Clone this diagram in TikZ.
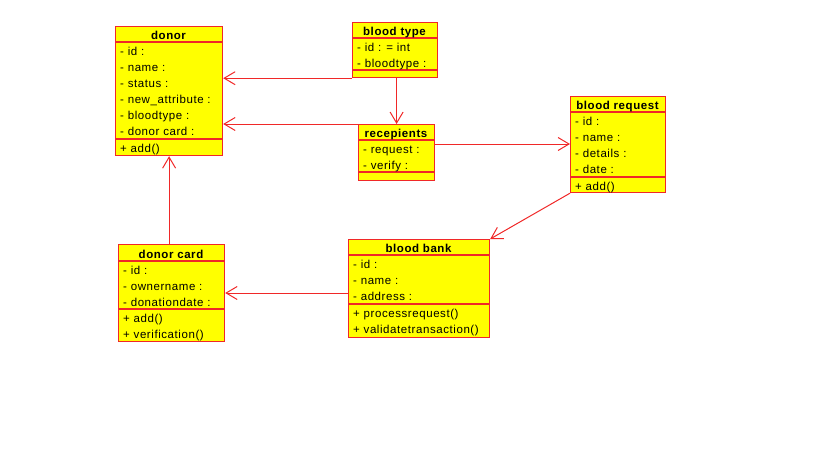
\documentclass[tikz,border=0pt]{standalone}
\usepackage{fontspec}
\setmainfont{Liberation Sans}[LetterSpace=5]
\usetikzlibrary{arrows.meta}
\definecolor{umlred}{RGB}{240,40,40}
\definecolor{umlyellow}{RGB}{255,255,0}
\begin{document}
\begin{tikzpicture}[x=1pt,y=-1pt,
  box/.style={draw=umlred, fill=umlyellow, line width=1.2pt, inner sep=0pt, anchor=north west},
  sep/.style={draw=umlred, line width=1.2pt},
  title/.style={font=\fontsize{11.5}{13}\selectfont\bfseries, inner sep=0pt, anchor=base},
  attr/.style={font=\fontsize{11.5}{13}\selectfont, inner sep=0pt, anchor=base west},
  arr/.style={draw=umlred, line width=1pt, -{Straight Barb[length=11pt,width=13pt]}}]
\useasboundingbox (0,0) rectangle (819,460);

% donor
\node[box, minimum width=107pt, minimum height=129pt] (donor) at (115,26) {};
\draw[sep] (115,42) -- (222,42);
\draw[sep] (115,139) -- (222,139);
\node[title] (donorT) at (168.5,39.5) {donor};
\foreach \t [count=\i] in {- id :, - name :, - status :, - new\_attribute :, - bloodtype :, - donor card :}
  \node[attr] (donorA\i) at (120,{55.5+16*(\i-1)}) {\t};
\node[attr] (donorM1) at (120,152.5) {+ add()};

% blood type
\node[box, minimum width=85pt, minimum height=55pt] (btype) at (352,22) {};
\draw[sep] (352,38) -- (437,38);
\draw[sep] (352,70) -- (437,70);
\node[title] (btypeT) at (394.5,35.5) {blood type};
\node[attr] (btypeA1) at (357,51.5) {- id : = int};
\node[attr] (btypeA2) at (357,67.5) {- bloodtype :};

% recepients
\node[box, minimum width=76pt, minimum height=56pt] (rec) at (358,124) {};
\draw[sep] (358,140) -- (434,140);
\draw[sep] (358,172) -- (434,172);
\node[title] (recT) at (396,137.5) {recepients};
\node[attr] (recA1) at (363,153.5) {- request :};
\node[attr] (recA2) at (363,169.5) {- verify :};

% blood request
\node[box, minimum width=95pt, minimum height=96pt] (breq) at (570,96) {};
\draw[sep] (570,112) -- (665,112);
\draw[sep] (570,177) -- (665,177);
\node[title] (breqT) at (617.5,109.5) {blood request};
\foreach \t [count=\i] in {- id :, - name :, - details :, - date :}
  \node[attr] (breqA\i) at (575,{125.5+16*(\i-1)}) {\t};
\node[attr] (breqM1) at (575,190.5) {+ add()};

% blood bank
\node[box, minimum width=141pt, minimum height=98pt] (bbank) at (348,239) {};
\draw[sep] (348,255) -- (489,255);
\draw[sep] (348,304) -- (489,304);
\node[title] (bbankT) at (418.5,252.5) {blood bank};
\foreach \t [count=\i] in {- id :, - name :, - address :}
  \node[attr] (bbankA\i) at (353,{268.5+16*(\i-1)}) {\t};
\node[attr] (bbankM1) at (353,317.5) {+ processrequest()};
\node[attr] (bbankM2) at (353,333.5) {+ validatetransaction()};

% donor card
\node[box, minimum width=106pt, minimum height=97pt] (dcard) at (118,244) {};
\draw[sep] (118,261) -- (224,261);
\draw[sep] (118,309) -- (224,309);
\node[title] (dcardT) at (171,258) {donor card};
\foreach \t [count=\i] in {- id :, - ownername :, - donationdate :}
  \node[attr] (dcardA\i) at (123,{274.5+16*(\i-1)}) {\t};
\node[attr] (dcardM1) at (123,322.5) {+ add()};
\node[attr] (dcardM2) at (123,338) {+ verification()};

% connectors
\draw[arr] (btype.south west) -- (btype.south west -| donor.east);
\draw[arr] (rec.north west) -- (rec.north west -| donor.east);
\draw[arr] (btype.south -| rec.north) -- (rec.north);
\draw[arr] (rec.east |- 0,144) -- (breq.west |- 0,144);
\draw[arr] (breq.south west) -- (bbank.north east);
\draw[arr] (bbank.west |- 0,293) -- (dcard.east |- 0,293);
\draw[arr] (dcard.north -| donor.south) -- (donor.south);
\end{tikzpicture}
\end{document}
